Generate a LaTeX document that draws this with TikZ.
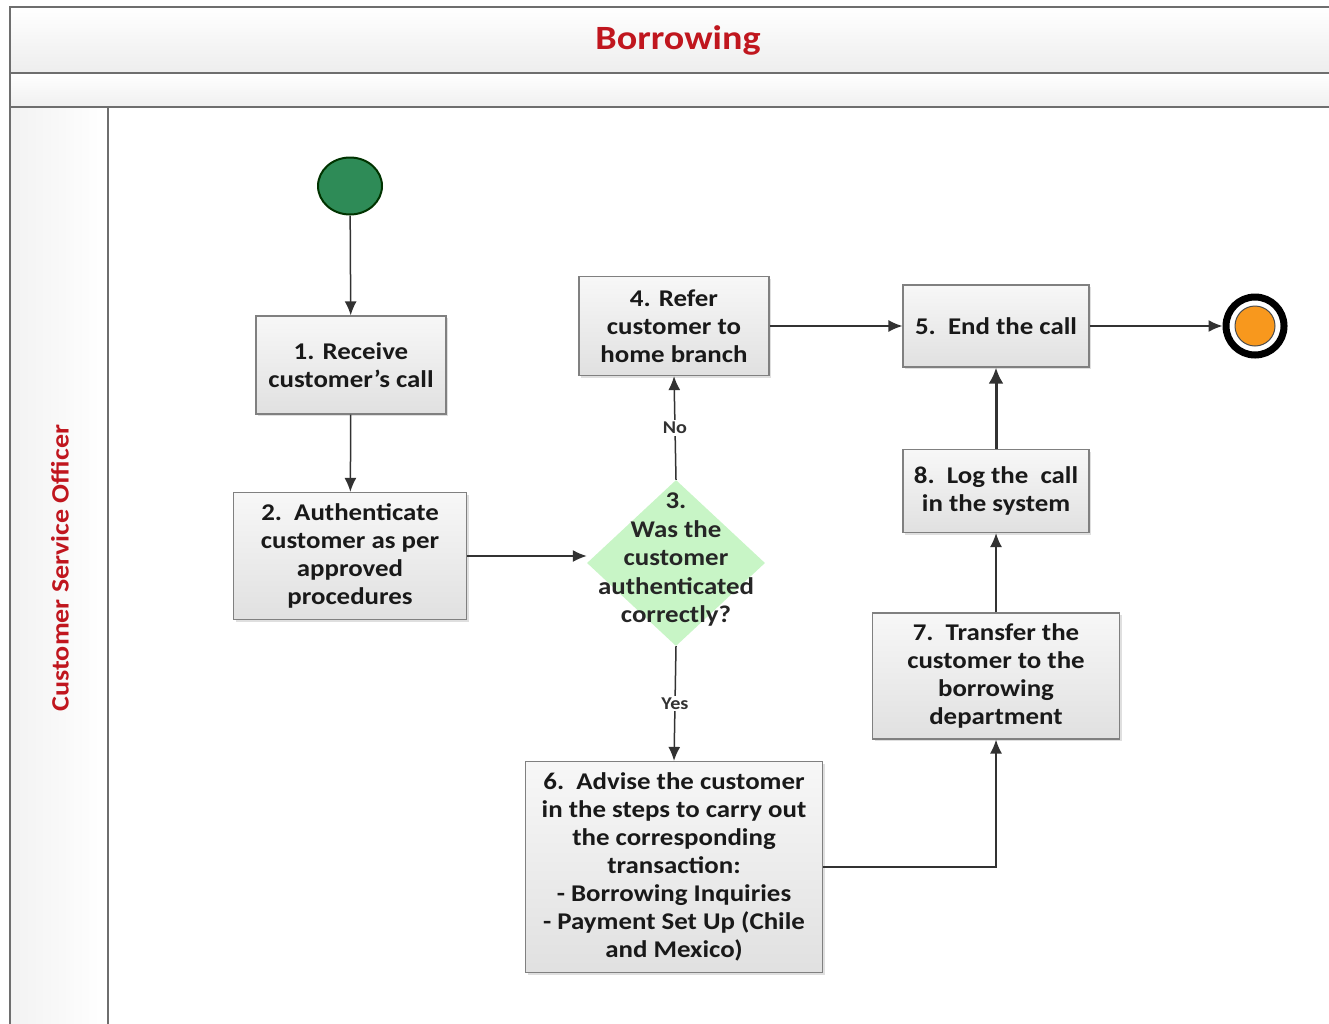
\documentclass[tikz,border=0pt]{standalone}
\usepackage{fontspec}
\setmainfont{Carlito}[FakeStretch=1.12]
\usetikzlibrary{shapes.geometric,arrows.meta,shadows,calc}
\definecolor{titlered}{RGB}{192,22,30}
\definecolor{startgreen}{RGB}{46,139,87}
\definecolor{decgreen}{RGB}{200,245,198}
\definecolor{endorange}{RGB}{248,152,29}
\definecolor{frameline}{RGB}{110,110,110}
\definecolor{boxline}{RGB}{128,128,128}
\definecolor{conn}{RGB}{50,50,50}
\tikzset{
  stepbox/.style={rectangle, draw=boxline, line width=1.2pt, top color=gray!6, bottom color=gray!24,
    align=center, inner sep=2pt, font=\fontsize{24}{28}\selectfont\bfseries, text=black!90,
    drop shadow={shadow xshift=2pt, shadow yshift=-2pt, opacity=0.25, fill=gray}},
  decbox/.style={diamond, fill=decgreen, inner sep=0pt, minimum width=178pt, minimum height=166pt},
  flow/.style={draw=conn, line width=1.5pt, -{Latex[length=14pt,width=12pt]}},
  edgelab/.style={fill=white, inner sep=2pt, font=\fontsize{18}{20}\selectfont\bfseries, text=conn},
}
\begin{document}
\begin{tikzpicture}[x=1pt,y=-1pt]
\useasboundingbox (0,0) rectangle (1329,1023);
% swimlane frame
\shade[top color=white, bottom color=gray!14] (10,7) rectangle (1335,73);
\shade[top color=white, bottom color=gray!12] (10,73) rectangle (1335,107);
\shade[left color=gray!10, right color=white] (10,107) rectangle (108,1030);
\draw[frameline, line width=2pt] (1335,7) -- (10,7) -- (10,1030);
\draw[frameline, line width=2pt] (10,73) -- (1335,73);
\draw[frameline, line width=2pt] (10,107) -- (1335,107);
\draw[frameline, line width=2pt] (108,107) -- (108,1030);
\node (title) at (678,40) {\fontsize{34}{40}\selectfont\bfseries\color{titlered}Borrowing};
\node (lane) [rotate=90] at (60,568) {\fontsize{25}{30}\selectfont\bfseries\color{titlered}Customer Service Officer};
% nodes
\node (start) [ellipse, fill=startgreen, draw=black!80!green, line width=2pt, minimum width=64pt, minimum height=57pt] at (350,186) {};
\node (b1) [stepbox, minimum width=190pt, minimum height=98pt] at (351,365) {1. Receive\\customer’s call};
\node (b2) [stepbox, minimum width=233pt, minimum height=127pt] at (350,556) {2.\ \ Authenticate\\customer as per\\approved\\procedures};
\node (d3) [decbox, label={[align=center, font=\fontsize{24}{28.5}\selectfont\bfseries, text=black!85, yshift=3pt]center:3.\\Was the\\customer\\authenticated\\correctly?}] at (676,563) {};
\node (b4) [stepbox, minimum width=190pt, minimum height=99pt] at (674,326) {4. Refer\\customer to\\home branch};
\node (b5) [stepbox, minimum width=186pt, minimum height=82pt] at (996,326) {5.\ \ End the call};
\node (endo) [circle, draw=black, line width=7pt, fill=white, minimum size=58pt] at (1255,326) {};
\node (endi) [circle, draw=black!70, line width=1pt, fill=endorange, minimum size=40pt] at (endo.center) {};
\node (b8) [stepbox, minimum width=186pt, minimum height=83pt] at (996,491) {8.\ \ Log the\ \ call\\in the system};
\node (b7) [stepbox, minimum width=247pt, minimum height=126pt] at (996,676) {7.\ \ Transfer the\\customer to the\\borrowing\\department};
\node (b6) [stepbox, minimum width=297pt, minimum height=211pt] at (674,867) {6.\ \ Advise the customer\\in the steps to carry out\\the corresponding\\transaction:\\- Borrowing Inquiries\\- Payment Set Up (Chile\\and Mexico)};
% connectors
\draw[flow] (start) -- (b1);
\draw[flow] (b1) -- (b2);
\draw[flow] (b2.east) -- (b2.east -| d3.west);
\draw[flow] (d3.north) -- node[edgelab] {No} (b4.south);
\draw[flow] (d3.south) -- node[edgelab] {Yes} (b6.north);
\draw[flow] (b4.east) -- (b5.west);
\draw[flow] (b5.east) -- (endo.west);
\draw[draw=conn, line width=3pt, -{Latex[length=16pt,width=15pt]}] (b8.north) -- (b5.south);
\draw[flow] (b7.north) -- (b8.south);
\draw[flow] (b6.east) -| (b7.south);
\end{tikzpicture}
\end{document}
